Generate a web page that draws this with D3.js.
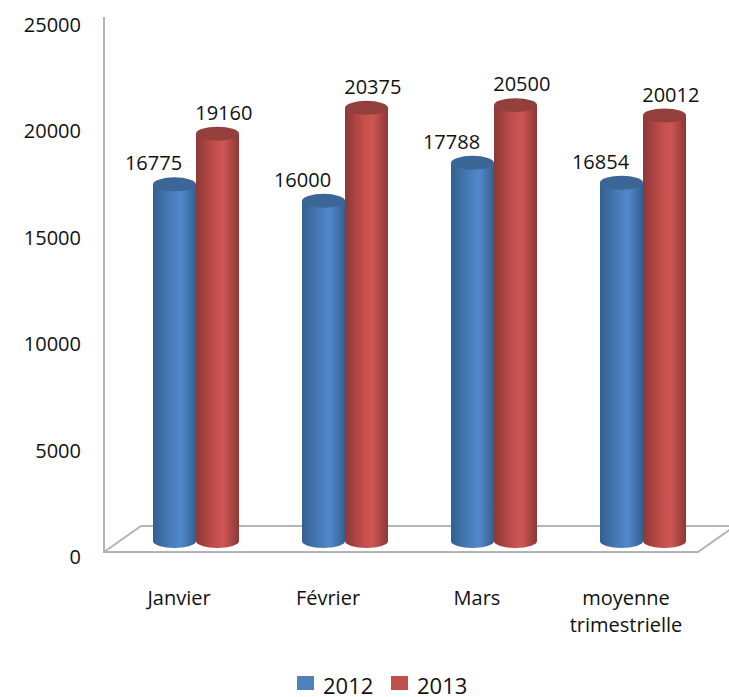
<!DOCTYPE html>
<html>
<head>
<meta charset="utf-8">
<title>2012 / 2013</title>
<script src="https://d3js.org/d3.v7.min.js"></script>
<style>
  body { margin: 0; background: #fff; }
  text { font-family: "Open Sans", sans-serif; fill: #111; }
</style>
</head>
<body>
<div id="chart"></div>
<script>
var categories = ["Janvier", "Février", "Mars", "moyenne trimestrielle"];
var series = ["2012", "2013"];
var values2012 = [16775, 16000, 17788, 16854];
var values2013 = [19160, 20375, 20500, 20012];
var yTicks = [0, 5000, 10000, 15000, 20000, 25000];

var width = 729, height = 697;
var depthX = 37, depthY = 26;   // floor offset
var floorFront = 552, floorLeft = 104, floorRight = 698;

var svg = d3.select("#chart").append("svg")
  .attr("width", width).attr("height", height);

var defs = svg.append("defs");
function cylGrad(id, edge, mid, light) {
  var g = defs.append("linearGradient").attr("id", id);
  g.append("stop").attr("offset", "0%").attr("stop-color", edge);
  g.append("stop").attr("offset", "45%").attr("stop-color", mid);
  g.append("stop").attr("offset", "65%").attr("stop-color", light);
  g.append("stop").attr("offset", "100%").attr("stop-color", edge);
}
cylGrad("grad2012", "#33608f", "#4a7ebb", "#5288cc");
cylGrad("grad2013", "#8c3836", "#c44f4c", "#cc5654");
defs.append("filter").attr("id", "soft")
  .append("feGaussianBlur").attr("stdDeviation", 0.6);

var y = d3.scaleLinear().domain([0, 25000]).range([541, 9.5]);
var yLabels = d3.scaleLinear().domain([0, 25000]).range([557, 25]);
var x0 = d3.scaleBand().domain(categories).range([104, 700]);
var x1 = d3.scaleBand().domain(series).range([0, 86]);

// walls and floor
var wall = svg.append("g").attr("fill", "none").attr("stroke", "#b4b4b4")
  .attr("stroke-width", 2).attr("filter", "url(#soft)");
wall.append("path").attr("d", "M" + floorLeft + ",17V" + floorFront + "H" + floorRight +
  "L" + (floorRight + depthX) + "," + (floorFront - depthY));
wall.append("path").attr("d", "M" + floorLeft + "," + floorFront +
  "L" + (floorLeft + depthX) + "," + (floorFront - depthY) + "H" + width);

// y axis labels only
var yAxis = d3.axisLeft(yLabels).tickValues(yTicks).tickSize(0).tickFormat(d3.format("d"));
var gy = svg.append("g").attr("transform", "translate(84,0)").call(yAxis);
gy.select(".domain").remove();
gy.selectAll("text").style("font-size", "20px").attr("dx", 0);

// cylinders
var rows = series.map(function (s, i) {
  return { name: s, vals: i === 0 ? values2012 : values2013 };
});
var groups = svg.selectAll(".bar-group").data(categories).enter().append("g")
  .attr("class", "bar-group")
  .attr("filter", "url(#soft)")
  .attr("transform", function (d) { return "translate(" + (x0(d) + 49) + ",0)"; });

series.forEach(function (s, si) {
  var bar = groups.append("g");
  var w = x1.bandwidth(), rx = w / 2, ry = 7;
  bar.append("path")
    .attr("fill", "url(#grad" + s + ")")
    .attr("d", function (d, i) {
      var top = y(rows[si].vals[i]), base = y(0), l = x1(s);
      return "M" + l + "," + top + "V" + base +
        "A" + rx + "," + ry + " 0 0 0 " + (l + w) + "," + base +
        "V" + top + "Z";
    });
  bar.append("ellipse")
    .attr("cx", x1(s) + rx)
    .attr("cy", function (d, i) { return y(rows[si].vals[i]); })
    .attr("rx", rx).attr("ry", ry)
    .attr("fill", si === 0 ? "#3a6696" : "#93403e");
});

// data labels
series.forEach(function (s, si) {
  svg.selectAll(".lab" + s).data(categories).enter().append("text")
    .attr("class", "lab" + s)
    .attr("text-anchor", "middle")
    .style("font-size", "20px")
    .attr("x", function (d) { return x0(d) + 49 + x1(s) + x1.bandwidth() / 2 - 21 * (si === 0 ? 1 : -0.3); })
    .attr("y", function (d, i) { return y(rows[si].vals[i]) - 14; })
    .text(function (d, i) { return rows[si].vals[i]; });
});

// category labels
var catLabels = svg.selectAll(".cat").data(categories).enter().append("text")
  .attr("class", "cat")
  .attr("text-anchor", "middle")
  .style("font-size", "20px")
  .attr("x", function (d) { return x0(d) + 75; })
  .attr("y", 605);
catLabels.each(function (d) {
  var t = d3.select(this);
  d.split(" ").forEach(function (w, i) {
    t.append("tspan").attr("x", t.attr("x")).attr("dy", i ? 27 : 0).text(w);
  });
});

// legend
var legend = svg.selectAll(".leg").data(series).enter().append("g")
  .attr("class", "leg")
  .attr("transform", function (d, i) { return "translate(" + (297 + i * 94) + ",676)"; });
legend.append("rect").attr("width", 17).attr("height", 14)
  .attr("fill", function (d) { return d === "2012" ? "#4f81bd" : "#c0504d"; });
legend.append("text").attr("x", 26).attr("y", 18).style("font-size", "22px")
  .text(function (d) { return d; });
</script>
</body>
</html>
